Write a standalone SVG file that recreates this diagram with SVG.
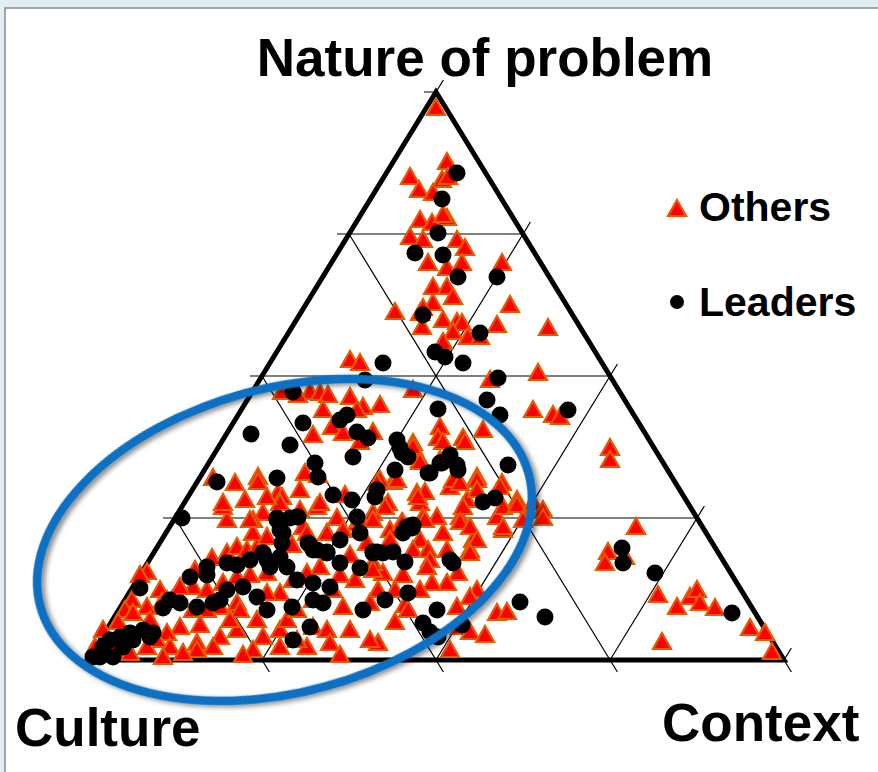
<svg xmlns="http://www.w3.org/2000/svg" xmlns:xlink="http://www.w3.org/1999/xlink" width="878" height="772" viewBox="0 0 878 772">
<style>
.lbl{font-family:"Liberation Sans",Arial,sans-serif;font-weight:bold;fill:#000}
.grid{fill:none;stroke:#000;stroke-width:1.2}
.tri{fill:#ff0000;stroke:#e55a00;stroke-width:2.2;stroke-linejoin:miter}
.dot{fill:#000}
</style>
<defs>
<polygon id="t" class="tri" points="0,-9 9,7 -9,7"/>
<circle id="c" class="dot" r="8.5"/>
<filter id="sh" x="-20%" y="-20%" width="140%" height="140%">
<feDropShadow dx="3" dy="3" stdDeviation="2.5" flood-color="#000" flood-opacity="0.45"/>
</filter>
</defs>
<rect x="0" y="0" width="878" height="772" fill="#e3eef2"/>
<rect x="5" y="8" width="880" height="770" fill="#fff" stroke="#8a8a8a" stroke-width="1.5"/>

<g id="axes">
<path class="grid" d="M337,234H523M250,376H610M163,518H697M424,92H436M76,660H88M349,234L617.4,672M262,376L443.4,672M175,518L269.4,672M88,660L95.4,672M784,660L791.4,672M436,92L443.4,80M262,660L530.4,222M436,660L617.4,364M610,660L704.4,506M784,660L791.4,648"/>
<path d="M436,92L784,660L88,660Z" fill="none" stroke="#000" stroke-width="5" stroke-linejoin="miter"/>
</g>

<g id="others">
<use href="#t" x="436" y="108"/><use href="#t" x="447" y="162"/><use href="#t" x="410" y="177"/><use href="#t" x="419" y="190"/><use href="#t" x="442" y="180"/><use href="#t" x="433" y="193"/><use href="#t" x="448" y="177"/><use href="#t" x="420" y="220"/><use href="#t" x="432" y="223"/><use href="#t" x="447" y="218"/><use href="#t" x="443" y="215"/><use href="#t" x="410" y="237"/><use href="#t" x="423" y="240"/><use href="#t" x="457" y="240"/><use href="#t" x="465" y="248"/><use href="#t" x="428" y="263"/><use href="#t" x="447" y="268"/><use href="#t" x="462" y="263"/><use href="#t" x="502" y="263"/><use href="#t" x="433" y="287"/><use href="#t" x="447" y="287"/><use href="#t" x="453" y="297"/><use href="#t" x="433" y="303"/><use href="#t" x="395" y="312"/><use href="#t" x="420" y="313"/><use href="#t" x="423" y="308"/><use href="#t" x="443" y="320"/><use href="#t" x="457" y="322"/><use href="#t" x="462" y="323"/><use href="#t" x="422" y="327"/><use href="#t" x="453" y="332"/><use href="#t" x="468" y="337"/><use href="#t" x="480" y="337"/><use href="#t" x="497" y="325"/><use href="#t" x="510" y="305"/><use href="#t" x="548" y="328"/><use href="#t" x="443" y="342"/><use href="#t" x="490" y="380"/><use href="#t" x="538" y="373"/>
<use href="#t" x="350" y="360"/><use href="#t" x="360" y="363"/><use href="#t" x="413" y="390"/><use href="#t" x="282" y="392"/><use href="#t" x="310" y="392"/><use href="#t" x="320" y="393"/><use href="#t" x="328" y="395"/><use href="#t" x="350" y="397"/><use href="#t" x="298" y="395"/><use href="#t" x="363" y="407"/><use href="#t" x="380" y="405"/><use href="#t" x="323" y="410"/><use href="#t" x="357" y="410"/><use href="#t" x="533" y="410"/><use href="#t" x="553" y="415"/><use href="#t" x="483" y="430"/><use href="#t" x="440" y="427"/><use href="#t" x="463" y="438"/><use href="#t" x="438" y="438"/><use href="#t" x="313" y="435"/><use href="#t" x="332" y="427"/><use href="#t" x="343" y="433"/><use href="#t" x="373" y="432"/><use href="#t" x="360" y="442"/><use href="#t" x="413" y="443"/><use href="#t" x="420" y="460"/><use href="#t" x="440" y="460"/><use href="#t" x="258" y="477"/><use href="#t" x="278" y="493"/><use href="#t" x="282" y="497"/><use href="#t" x="305" y="473"/><use href="#t" x="318" y="475"/><use href="#t" x="393" y="482"/><use href="#t" x="380" y="480"/><use href="#t" x="417" y="493"/><use href="#t" x="425" y="492"/><use href="#t" x="450" y="487"/><use href="#t" x="458" y="480"/><use href="#t" x="477" y="477"/><use href="#t" x="502" y="483"/><use href="#t" x="517" y="500"/><use href="#t" x="533" y="503"/><use href="#t" x="543" y="510"/><use href="#t" x="263" y="513"/><use href="#t" x="317" y="507"/><use href="#t" x="337" y="518"/><use href="#t" x="388" y="503"/><use href="#t" x="420" y="503"/><use href="#t" x="423" y="517"/><use href="#t" x="437" y="517"/><use href="#t" x="467" y="500"/><use href="#t" x="460" y="517"/><use href="#t" x="497" y="517"/><use href="#t" x="503" y="530"/><use href="#t" x="473" y="540"/><use href="#t" x="443" y="533"/><use href="#t" x="390" y="530"/><use href="#t" x="357" y="523"/><use href="#t" x="327" y="533"/><use href="#t" x="303" y="527"/><use href="#t" x="253" y="520"/><use href="#t" x="373" y="513"/><use href="#t" x="403" y="523"/><use href="#t" x="420" y="540"/><use href="#t" x="447" y="550"/><use href="#t" x="470" y="550"/>
<use href="#t" x="443" y="442"/><use href="#t" x="465" y="442"/><use href="#t" x="413" y="447"/><use href="#t" x="420" y="462"/><use href="#t" x="397" y="480"/><use href="#t" x="377" y="483"/><use href="#t" x="453" y="480"/><use href="#t" x="477" y="480"/><use href="#t" x="500" y="487"/><use href="#t" x="418" y="497"/><use href="#t" x="460" y="483"/><use href="#t" x="477" y="490"/><use href="#t" x="463" y="507"/><use href="#t" x="385" y="507"/><use href="#t" x="503" y="507"/><use href="#t" x="517" y="505"/><use href="#t" x="543" y="518"/><use href="#t" x="523" y="520"/><use href="#t" x="460" y="522"/><use href="#t" x="470" y="527"/><use href="#t" x="503" y="527"/><use href="#t" x="425" y="520"/><use href="#t" x="402" y="522"/><use href="#t" x="390" y="540"/><use href="#t" x="413" y="550"/><use href="#t" x="428" y="550"/><use href="#t" x="477" y="540"/><use href="#t" x="470" y="553"/><use href="#t" x="383" y="573"/><use href="#t" x="373" y="563"/><use href="#t" x="430" y="560"/><use href="#t" x="427" y="567"/><use href="#t" x="403" y="575"/><use href="#t" x="458" y="573"/><use href="#t" x="447" y="583"/><use href="#t" x="432" y="583"/><use href="#t" x="378" y="590"/><use href="#t" x="420" y="590"/><use href="#t" x="405" y="605"/><use href="#t" x="408" y="610"/><use href="#t" x="457" y="607"/><use href="#t" x="477" y="590"/><use href="#t" x="470" y="597"/><use href="#t" x="497" y="613"/><use href="#t" x="507" y="612"/><use href="#t" x="460" y="627"/><use href="#t" x="470" y="632"/><use href="#t" x="485" y="635"/><use href="#t" x="450" y="650"/><use href="#t" x="378" y="643"/><use href="#t" x="370" y="603"/>
<use href="#t" x="560" y="417"/><use href="#t" x="610" y="448"/><use href="#t" x="610" y="460"/><use href="#t" x="636" y="527"/><use href="#t" x="608" y="552"/><use href="#t" x="605" y="563"/><use href="#t" x="625" y="557"/><use href="#t" x="658" y="595"/><use href="#t" x="677" y="607"/><use href="#t" x="690" y="597"/><use href="#t" x="697" y="590"/><use href="#t" x="700" y="603"/><use href="#t" x="715" y="608"/><use href="#t" x="750" y="628"/><use href="#t" x="765" y="633"/><use href="#t" x="772" y="652"/><use href="#t" x="662" y="642"/>
<use href="#t" x="147" y="572"/><use href="#t" x="160" y="590"/><use href="#t" x="132" y="600"/><use href="#t" x="125" y="610"/><use href="#t" x="133" y="613"/><use href="#t" x="103" y="630"/><use href="#t" x="95" y="647"/><use href="#t" x="147" y="607"/><use href="#t" x="162" y="602"/><use href="#t" x="172" y="600"/><use href="#t" x="180" y="600"/><use href="#t" x="193" y="587"/><use href="#t" x="212" y="558"/><use href="#t" x="227" y="553"/><use href="#t" x="237" y="547"/><use href="#t" x="247" y="550"/><use href="#t" x="257" y="547"/><use href="#t" x="253" y="533"/><use href="#t" x="267" y="537"/><use href="#t" x="250" y="520"/><use href="#t" x="227" y="520"/><use href="#t" x="223" y="507"/><use href="#t" x="280" y="503"/><use href="#t" x="320" y="503"/><use href="#t" x="307" y="533"/><use href="#t" x="327" y="533"/><use href="#t" x="343" y="530"/><use href="#t" x="360" y="520"/><use href="#t" x="373" y="520"/><use href="#t" x="367" y="543"/><use href="#t" x="373" y="570"/><use href="#t" x="320" y="567"/><use href="#t" x="307" y="573"/><use href="#t" x="293" y="580"/><use href="#t" x="280" y="593"/><use href="#t" x="267" y="593"/><use href="#t" x="237" y="603"/><use href="#t" x="220" y="607"/><use href="#t" x="207" y="610"/><use href="#t" x="193" y="610"/><use href="#t" x="180" y="627"/><use href="#t" x="167" y="633"/><use href="#t" x="157" y="640"/><use href="#t" x="147" y="647"/><use href="#t" x="130" y="653"/><use href="#t" x="170" y="647"/><use href="#t" x="163" y="657"/><use href="#t" x="197" y="643"/><use href="#t" x="220" y="637"/><use href="#t" x="237" y="630"/><use href="#t" x="240" y="610"/><use href="#t" x="257" y="620"/><use href="#t" x="263" y="637"/><use href="#t" x="280" y="630"/><use href="#t" x="287" y="620"/><use href="#t" x="297" y="610"/><use href="#t" x="313" y="600"/><use href="#t" x="333" y="590"/><use href="#t" x="343" y="607"/><use href="#t" x="313" y="627"/><use href="#t" x="327" y="630"/><use href="#t" x="350" y="630"/><use href="#t" x="370" y="640"/><use href="#t" x="330" y="643"/><use href="#t" x="307" y="647"/><use href="#t" x="280" y="647"/><use href="#t" x="253" y="650"/><use href="#t" x="213" y="647"/><use href="#t" x="197" y="650"/><use href="#t" x="183" y="653"/><use href="#t" x="113" y="650"/><use href="#t" x="280" y="560"/><use href="#t" x="267" y="573"/><use href="#t" x="237" y="577"/><use href="#t" x="223" y="583"/><use href="#t" x="207" y="590"/><use href="#t" x="180" y="587"/><use href="#t" x="167" y="600"/>
<use href="#t" x="213" y="478"/><use href="#t" x="235" y="483"/><use href="#t" x="258" y="482"/><use href="#t" x="223" y="503"/><use href="#t" x="267" y="497"/>
<use href="#t" x="245" y="500"/><use href="#t" x="300" y="510"/><use href="#t" x="292" y="545"/><use href="#t" x="350" y="555"/><use href="#t" x="355" y="580"/><use href="#t" x="340" y="575"/><use href="#t" x="250" y="575"/><use href="#t" x="200" y="625"/><use href="#t" x="230" y="620"/><use href="#t" x="150" y="620"/><use href="#t" x="118" y="622"/><use href="#t" x="140" y="575"/><use href="#t" x="345" y="495"/><use href="#t" x="395" y="590"/><use href="#t" x="300" y="490"/><use href="#t" x="195" y="570"/><use href="#t" x="340" y="655"/><use href="#t" x="297" y="640"/><use href="#t" x="243" y="655"/><use href="#t" x="395" y="622"/>
</g>

<g id="leaders">
<use href="#c" x="457" y="173"/><use href="#c" x="442" y="199"/><use href="#c" x="438" y="233"/><use href="#c" x="415" y="253"/><use href="#c" x="443" y="255"/><use href="#c" x="458" y="277"/><use href="#c" x="497" y="277"/><use href="#c" x="423" y="315"/><use href="#c" x="480" y="333"/><use href="#c" x="435" y="352"/><use href="#c" x="445" y="357"/><use href="#c" x="463" y="363"/><use href="#c" x="383" y="363"/><use href="#c" x="498" y="378"/>
<use href="#c" x="365" y="380"/><use href="#c" x="293" y="392"/><use href="#c" x="487" y="400"/><use href="#c" x="438" y="409"/><use href="#c" x="500" y="415"/><use href="#c" x="303" y="423"/><use href="#c" x="347" y="415"/><use href="#c" x="340" y="420"/><use href="#c" x="357" y="432"/><use href="#c" x="368" y="438"/><use href="#c" x="290" y="445"/><use href="#c" x="251" y="434"/><use href="#c" x="397" y="440"/><use href="#c" x="400" y="448"/><use href="#c" x="408" y="457"/><use href="#c" x="353" y="457"/><use href="#c" x="315" y="463"/><use href="#c" x="318" y="477"/><use href="#c" x="277" y="478"/><use href="#c" x="430" y="473"/><use href="#c" x="440" y="463"/><use href="#c" x="377" y="490"/><use href="#c" x="375" y="497"/><use href="#c" x="333" y="495"/><use href="#c" x="352" y="500"/><use href="#c" x="357" y="517"/><use href="#c" x="360" y="533"/><use href="#c" x="407" y="527"/><use href="#c" x="413" y="525"/><use href="#c" x="277" y="520"/><use href="#c" x="290" y="518"/><use href="#c" x="298" y="517"/><use href="#c" x="283" y="533"/><use href="#c" x="308" y="543"/><use href="#c" x="317" y="550"/><use href="#c" x="327" y="552"/><use href="#c" x="263" y="553"/><use href="#c" x="340" y="540"/><use href="#c" x="377" y="552"/><use href="#c" x="393" y="552"/><use href="#c" x="450" y="560"/>
<use href="#c" x="395" y="470"/><use href="#c" x="402" y="453"/><use href="#c" x="428" y="473"/><use href="#c" x="442" y="463"/><use href="#c" x="450" y="455"/><use href="#c" x="458" y="470"/><use href="#c" x="457" y="465"/><use href="#c" x="508" y="465"/><use href="#c" x="483" y="502"/><use href="#c" x="495" y="498"/><use href="#c" x="412" y="528"/><use href="#c" x="403" y="533"/><use href="#c" x="373" y="552"/><use href="#c" x="383" y="553"/><use href="#c" x="405" y="562"/><use href="#c" x="453" y="563"/><use href="#c" x="385" y="600"/><use href="#c" x="408" y="593"/><use href="#c" x="437" y="610"/><use href="#c" x="423" y="623"/><use href="#c" x="430" y="632"/><use href="#c" x="438" y="637"/><use href="#c" x="462" y="625"/><use href="#c" x="520" y="602"/><use href="#c" x="545" y="617"/>
<use href="#c" x="568" y="410"/><use href="#c" x="622" y="548"/><use href="#c" x="623" y="563"/><use href="#c" x="655" y="573"/><use href="#c" x="732" y="613"/>
<use href="#c" x="182" y="518"/><use href="#c" x="140" y="588"/><use href="#c" x="190" y="577"/><use href="#c" x="207" y="567"/><use href="#c" x="207" y="575"/><use href="#c" x="227" y="563"/><use href="#c" x="237" y="565"/><use href="#c" x="250" y="560"/><use href="#c" x="263" y="553"/><use href="#c" x="277" y="518"/><use href="#c" x="297" y="517"/><use href="#c" x="280" y="530"/><use href="#c" x="282" y="543"/><use href="#c" x="280" y="557"/><use href="#c" x="287" y="567"/><use href="#c" x="270" y="567"/><use href="#c" x="267" y="560"/><use href="#c" x="310" y="545"/><use href="#c" x="313" y="550"/><use href="#c" x="327" y="553"/><use href="#c" x="340" y="563"/><use href="#c" x="373" y="553"/><use href="#c" x="360" y="568"/><use href="#c" x="297" y="580"/><use href="#c" x="313" y="583"/><use href="#c" x="330" y="587"/><use href="#c" x="313" y="600"/><use href="#c" x="323" y="603"/><use href="#c" x="292" y="607"/><use href="#c" x="267" y="610"/><use href="#c" x="257" y="597"/><use href="#c" x="243" y="587"/><use href="#c" x="227" y="590"/><use href="#c" x="220" y="600"/><use href="#c" x="213" y="603"/><use href="#c" x="197" y="607"/><use href="#c" x="180" y="603"/><use href="#c" x="170" y="600"/><use href="#c" x="163" y="608"/><use href="#c" x="310" y="627"/><use href="#c" x="363" y="610"/><use href="#c" x="293" y="640"/><use href="#c" x="153" y="633"/><use href="#c" x="143" y="630"/><use href="#c" x="130" y="633"/><use href="#c" x="120" y="637"/><use href="#c" x="110" y="640"/><use href="#c" x="103" y="647"/><use href="#c" x="93" y="657"/><use href="#c" x="100" y="657"/><use href="#c" x="113" y="657"/><use href="#c" x="123" y="647"/><use href="#c" x="150" y="637"/><use href="#c" x="133" y="640"/><use href="#c" x="217" y="482"/>
</g>

<g id="highlight">
<ellipse cx="284.5" cy="540" rx="253" ry="152" transform="rotate(-15.2 284.5 540)" fill="none" stroke="#0a6fc2" stroke-width="8.5" filter="url(#sh)"/>
</g>

<g id="legend">
<use href="#t" x="677" y="209"/>
<text class="lbl" x="699" y="221" font-size="41">Others</text>
<circle class="dot" cx="677" cy="302" r="7"/>
<text class="lbl" x="699" y="316" font-size="41">Leaders</text>
</g>

<g id="labels">
<text class="lbl" x="485" y="76" font-size="53" text-anchor="middle">Nature of problem</text>
<text class="lbl" x="15" y="746" font-size="53">Culture</text>
<text class="lbl" x="662" y="741" font-size="53">Context</text>
</g>
</svg>
